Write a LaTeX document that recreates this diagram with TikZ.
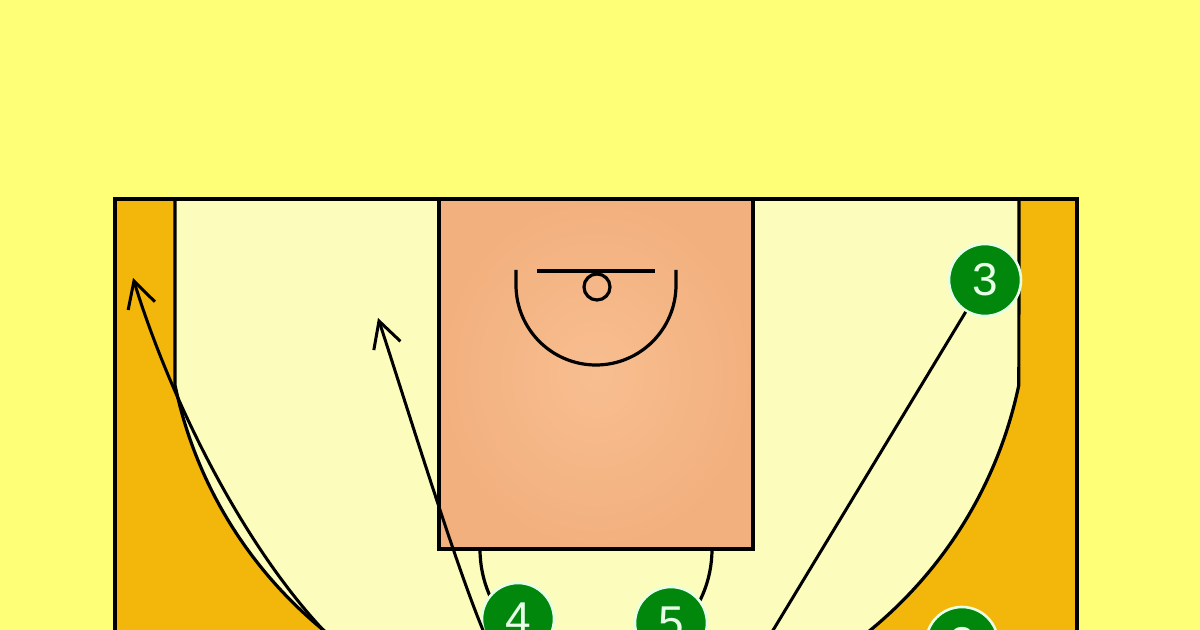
\documentclass[tikz,border=0pt]{standalone}
\usepackage{fontspec}
\newfontfamily\playerfont{Liberation Sans}
\usetikzlibrary{arrows.meta,positioning}
\definecolor{ctbg}{HTML}{FFFF77}
\definecolor{ctgold}{HTML}{F2B70A}
\definecolor{ctlight}{HTML}{FCFCBC}
\definecolor{ctpaint}{HTML}{F8BE90}
\definecolor{ctpaintedge}{HTML}{F2B07E}
\definecolor{ctgreen}{HTML}{00870C}
\definecolor{ctring}{HTML}{E6FFE6}

\begin{document}
\begin{tikzpicture}[x=0.5pt, y=-0.5pt,
  player/.style={circle, fill=ctgreen, draw=ctring, line width=1.3pt,
    minimum size=36pt, inner sep=0pt, text=ctring,
    font=\playerfont\fontsize{23}{23}\selectfont},
  courtline/.style={line width=1.6pt},
  cut/.style={line width=1.5pt, -{Straight Barb[length=13pt,width=14pt]}}]

  % ---- Background ----
  \useasboundingbox (0,0) rectangle (1200,630);
  \clip (0,0) rectangle (1200,630);
  \fill[ctbg] (0,0) rectangle (1200,630);

  % ---- Half court ----
  \fill[ctgold, draw=black, courtline] (115,199) rectangle (1077,720);

  % Three point area
  \fill[ctlight] (175,199) -- (175,385)
    arc[start angle=168.22, end angle=11.78, radius=431]
    -- (1019,199) -- cycle;
  \draw[courtline] (175,199) -- (175,385)
    arc[start angle=168.22, end angle=11.78, radius=431]
    -- (1019,199);
  \draw[courtline] (115,199) -- (1077,199);

  % ---- Paint ----
  \shade[inner color=ctpaint, outer color=ctpaintedge] (439,199) rectangle (753,549);
  \draw[courtline] (439,199) rectangle (753,549);

  % Free throw circle (lower half)
  \draw[courtline] (480,549) arc[start angle=180, end angle=0, radius=116];

  % Restricted area, backboard and rim
  \draw[courtline] (516,270) -- (516,285)
    arc[start angle=180, end angle=0, radius=80] -- (676,270);
  \draw[courtline] (537,271) -- (655,271);
  \draw[courtline] (597,287) circle[radius=13];

  % ---- Players ----
  \node[player] (p3) at (985,280) {3};
  \node[player] (p4) at (518,619) {4};
  \node[player] (p5) at (671,623) {5};
  \node[player] (p2) at (962,643) {2};

  % ---- Movements ----
  \coordinate (leftstart) at (338,645);
  \coordinate (lefttip) at (133,278);
  \coordinate (p4tip) at (378,318);
  \coordinate (p3end) at (752,665);

  \draw[cut] (leftstart) .. controls (250,560) and (172,405) .. (lefttip);
  \draw[cut] (p4.215) .. controls (460,580) and (405,400) .. (p4tip);
  \draw[line width=1.5pt] (p3) -- (p3end);

\end{tikzpicture}
\end{document}
